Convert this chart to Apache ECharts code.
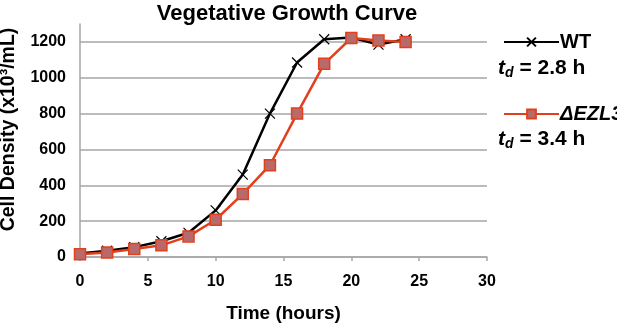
<!DOCTYPE html>
<html>
<head>
<meta charset="utf-8">
<script src="https://cdn.jsdelivr.net/npm/echarts@6/dist/echarts.min.js"></script>
<style>
  html, body { margin: 0; padding: 0; background: #fff; }
  #chart { width: 617px; height: 325px; }
</style>
</head>
<body>
<div id="chart"></div>
<script>
const hours = [0, 2, 4, 6, 8, 10, 12, 14, 16, 18, 20, 22, 24];
const wtDensity = [20, 35, 55, 88, 135, 260, 460, 800, 1085, 1215, 1225, 1185, 1215];
const ezl3Density = [15, 25, 45, 65, 115, 208, 352, 512, 800, 1078, 1222, 1208, 1200];
const seriesNames = ["WT", "ΔEZL3"];
const doublingTimes = ["2.8 h", "3.4 h"];

const font = "Liberation Sans";
const chart = echarts.init(document.getElementById("chart"));

const pair = (xs, ys) => xs.map((x, i) => [x, ys[i]]);

function tdText(val, top) {
  return {
    type: "text",
    left: 498,
    top: top,
    style: {
      text: "{t|t}{d|d}{n| = " + val + "}",
      rich: {
        t: { fontFamily: font, fontSize: 21, fontWeight: "bold", fontStyle: "italic", fill: "#000" },
        d: { fontFamily: font, fontSize: 14, fontWeight: "bold", fontStyle: "italic", fill: "#000", padding: [10, 0, 0, 0] },
        n: { fontFamily: font, fontSize: 21, fontWeight: "bold", fill: "#000" }
      }
    }
  };
}

chart.setOption({
  animation: false,
  backgroundColor: "#fff",
  title: {
    text: "Vegetative Growth Curve",
    left: 282,
    textAlign: "center",
    top: -2,
    textStyle: { fontFamily: font, fontSize: 22, fontWeight: "bold", color: "#000" }
  },
  grid: { left: 80, right: 130, top: 24, bottom: 68, outerBoundsMode: "none", containLabel: false },
  legend: {
    orient: "vertical",
    left: 498,
    top: 27,
    itemWidth: 55,
    itemHeight: 11,
    itemGap: 52,
    data: seriesNames,
    textStyle: {
      fontFamily: font, fontSize: 20, fontWeight: "bold", color: "#000", padding: [0, 0, 0, -4],
      rich: { i: { fontFamily: font, fontSize: 20, fontWeight: "bold", fontStyle: "italic", color: "#000" } }
    },
    formatter: (name) => name === "WT" ? name : "{i|" + name + "}"
  },
  xAxis: {
    type: "value",
    min: 0,
    max: 30,
    interval: 5,
    name: "Time (hours)",
    nameLocation: "middle",
    nameGap: 47,
    nameTextStyle: { fontFamily: font, fontSize: 19, fontWeight: "bold", color: "#000" },
    axisLine: { lineStyle: { color: "#a6a6a6", width: 1.5 } },
    axisTick: { show: true, length: 4, lineStyle: { color: "#a6a6a6", width: 1.5 } },
    axisLabel: { fontFamily: font, fontSize: 16, fontWeight: "bold", color: "#000", margin: 17 },
    splitLine: { show: false }
  },
  yAxis: {
    type: "value",
    min: 0,
    max: 1300,
    interval: 100,
    name: "Cell Density (x10³/mL)",
    nameLocation: "middle",
    nameGap: 61,
    nameTextStyle: { fontFamily: font, fontSize: 19.5, fontWeight: "bold", color: "#000", padding: [0, 0, 0, 22] },
    axisLine: { show: true, lineStyle: { color: "#a6a6a6", width: 1.5 } },
    axisTick: { show: false },
    axisLabel: {
      fontFamily: font, fontSize: 16, fontWeight: "bold", color: "#000", margin: 14,
      formatter: (v) => (v % 200 === 0 ? String(v) : "")
    },
    splitLine: { show: true, lineStyle: { color: ["#a6a6a6", "transparent"], width: 1.5 } }
  },
  series: [
    {
      name: seriesNames[0],
      type: "line",
      data: pair(hours, wtDensity),
      symbol: "path://M0,0L10,10M10,0L0,10",
      symbolSize: 10,
      lineStyle: { color: "#000", width: 2.5 },
      itemStyle: { color: "none", borderColor: "#000", borderWidth: 1.2 },
      z: 2
    },
    {
      name: seriesNames[1],
      type: "line",
      data: pair(hours, ezl3Density),
      symbol: "rect",
      symbolSize: 11,
      lineStyle: { color: "#e2401c", width: 2.5 },
      itemStyle: { color: "#b86a6a", borderColor: "#e2401c", borderWidth: 1.5 },
      z: 3
    }
  ],
  graphic: [tdText(doublingTimes[0], 58), tdText(doublingTimes[1], 129)]
});
</script>
</body>
</html>
